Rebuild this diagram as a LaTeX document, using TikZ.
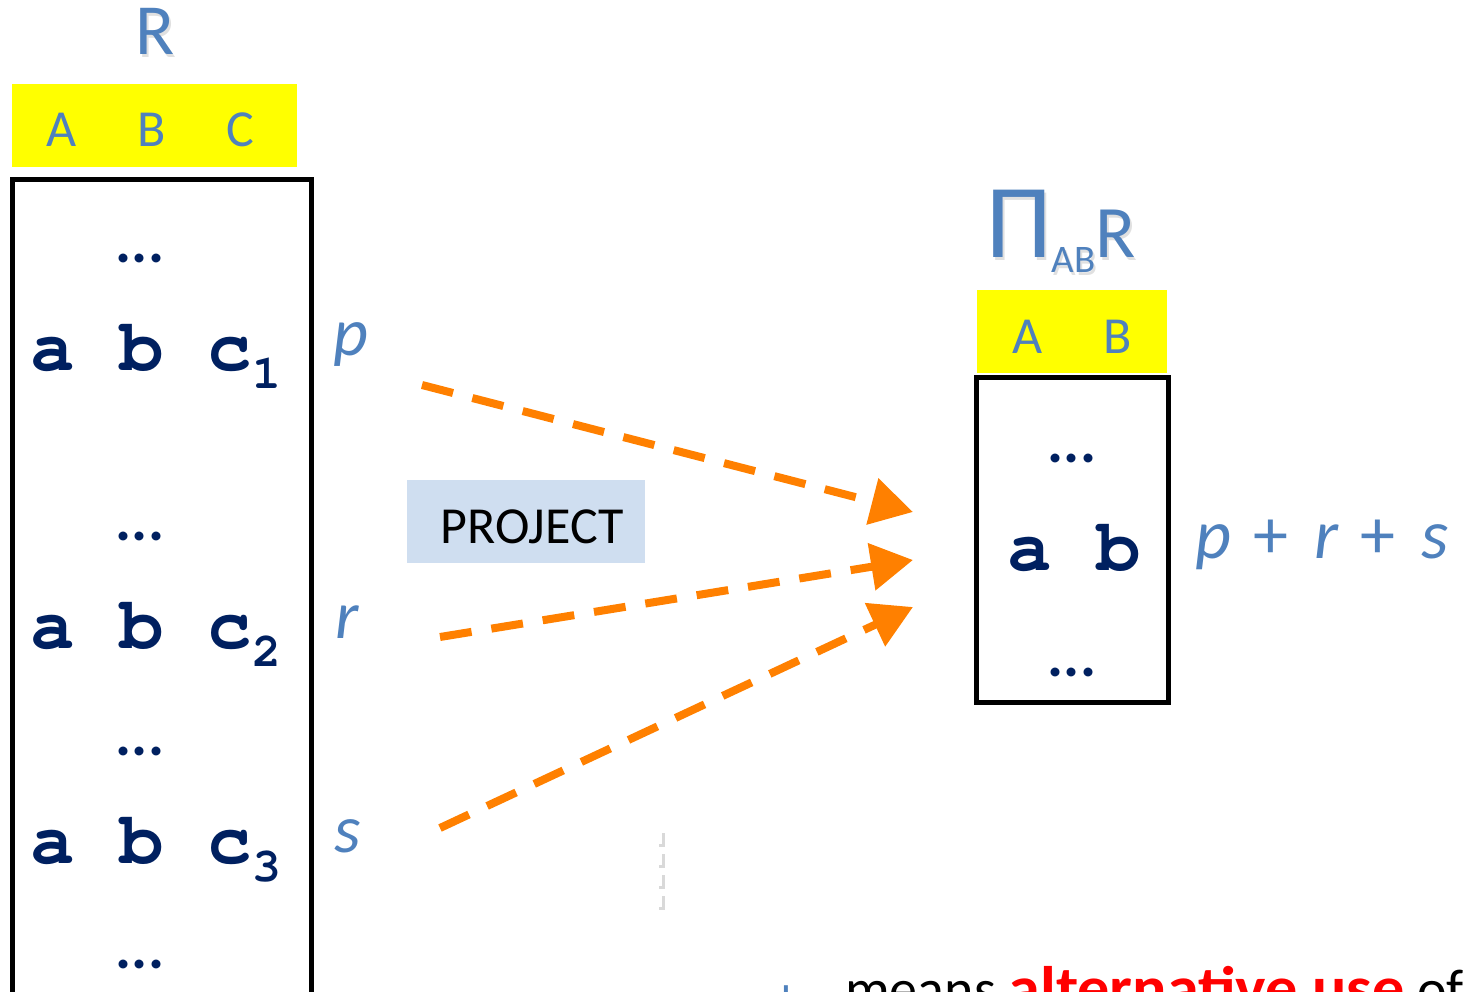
\documentclass[tikz,border=0pt]{standalone}
\usepackage[T1]{fontenc}
\usepackage{fontspec}
\usepackage{graphicx}
\setmainfont{Carlito}
\newcommand\codefont{\fontencoding{T1}\fontfamily{pcr}\selectfont}
\usetikzlibrary{arrows.meta}
\definecolor{relBlue}{HTML}{4F81BD}
\definecolor{relNavy}{HTML}{002060}
\definecolor{relYellow}{HTML}{FFFF00}
\definecolor{relSoft}{HTML}{CFDEF0}
\definecolor{relOrange}{HTML}{FF8000}
\definecolor{relRed}{HTML}{FF0000}

\begin{document}
\begin{tikzpicture}[x=1pt,y=-1pt,>=Latex,line join=miter]
\useasboundingbox (0,0) rectangle (1464,992);
\clip (0,0) rectangle (1464,992);
\tikzset{hdr/.style={fill=relYellow,inner sep=0pt},colname/.style={anchor=base,text=relBlue,inner sep=0pt,font=\fontsize{52}{52}\selectfont},tuple/.style={anchor=base west,text=relNavy,inner sep=0pt,font=\codefont\bfseries\fontsize{74}{74}\selectfont},dots/.style={anchor=base,text=relNavy,inner sep=0pt,font=\bfseries\fontsize{60}{60}\selectfont},tag/.style={anchor=base,text=relBlue,inner sep=0pt,font=\itshape\fontsize{68}{68}\selectfont},relbox/.style={draw=black,line width=5pt,inner sep=0pt},flow/.style={draw=relOrange,line width=8pt,dash pattern=on 32pt off 20pt,-{Triangle[length=42pt,width=46pt]}},title/.style={anchor=base,text=relBlue,inner sep=0pt}}
% relation R
\node[title,text=black!12,font=\fontsize{72}{72}\selectfont] at (157,58) {R};
\node[title,font=\fontsize{72}{72}\selectfont] (nameR) at (155,55) {R};
\node[hdr,minimum width=285pt,minimum height=83pt] (hdrR) at (154.5,125.5) {};
\node[colname] at (62,147) {A}; \node[colname] at (152,147) {B}; \node[colname] at (240,147) {C};
\node[relbox,minimum width=299pt,minimum height=840pt] (boxR) at (161.5,600) {};
\node[dots] at (140,263) {...}; \node[dots] at (140,540) {...}; \node[dots] at (140,755) {...}; \node[dots] at (140,968) {...};
\node[tuple] (row1) at (30,370) {a b c\raisebox{-18pt}{\fontsize{48}{48}\selectfont 1}};
\node[tuple] (row2) at (30,648) {a b c\raisebox{-18pt}{\fontsize{48}{48}\selectfont 2}};
\node[tuple] (row3) at (30,863) {a b c\raisebox{-18pt}{\fontsize{48}{48}\selectfont 3}};
\node[tag] (tagp) at (351,355) {p}; \node[tag] (tagr) at (347,638) {r}; \node[tag] (tags) at (348,852) {s};
% operator
\node[fill=relSoft,minimum width=238pt,minimum height=83pt,inner sep=0pt] (op) at (526,521.5) {};
\node[anchor=base,inner sep=0pt,font=\fontsize{52}{52}\selectfont] at (532,543) {PROJECT};
% result relation
\node[anchor=base west,inner sep=0pt,text=black!12] at (988,261) {\fontsize{105}{105}\selectfont Π\raisebox{-15pt}{\fontsize{39}{39}\selectfont AB}\fontsize{74}{74}\selectfont R};
\node[anchor=base west,inner sep=0pt,text=relBlue] (nameP) at (986,258) {\fontsize{105}{105}\selectfont Π\raisebox{-15pt}{\fontsize{39}{39}\selectfont AB}\fontsize{74}{74}\selectfont R};
\node[hdr,minimum width=190pt,minimum height=83pt] (hdrP) at (1072,331.5) {};
\node[colname] at (1028,353) {A}; \node[colname] at (1118,353) {B};
\node[relbox,minimum width=192pt,minimum height=325pt] (boxP) at (1072,539.5) {};
\node[dots] at (1072,462) {...}; \node[dots] at (1072,676) {...};
\node[tuple] (rowP) at (1007,570) {a b};
\node[anchor=base west,inner sep=0pt,text=relBlue,font=\fontsize{70}{70}\selectfont] (sumP) at (1195,558) {\textit{p}\hspace{22pt}+\hspace{26pt}\textit{r}\hspace{22pt}+\hspace{26pt}\textit{s}};
% tuple flows
\coordinate (outp) at (422,385); \coordinate (outr) at (440,637); \coordinate (outs) at (440,828);
\coordinate (in1) at (913,512); \coordinate (in2) at (913,560); \coordinate (in3) at (913,607);
\draw[flow] (outp) -- (in1);
\draw[flow] (outr) -- (in2);
\draw[flow] (outs) -- (in3);
\draw[black!15,line width=6pt,dash pattern=on 14pt off 7pt] (662,833) -- (662,911);
\draw[white,line width=4pt,dash pattern=on 14pt off 7pt] (660,830) -- (660,908);
% footnote
\node[anchor=base,inner sep=0pt,text=relBlue,font=\fontsize{56}{56}\selectfont] at (786,1016) {+};
\node[anchor=base west,inner sep=0pt,font=\fontsize{56}{56}\selectfont] (note) at (845,1008) {means \textcolor{relRed}{\scalebox{1.07}[1]{\bfseries\fontsize{60}{60}\selectfont alternative use}} of};
\end{tikzpicture}
\end{document}
